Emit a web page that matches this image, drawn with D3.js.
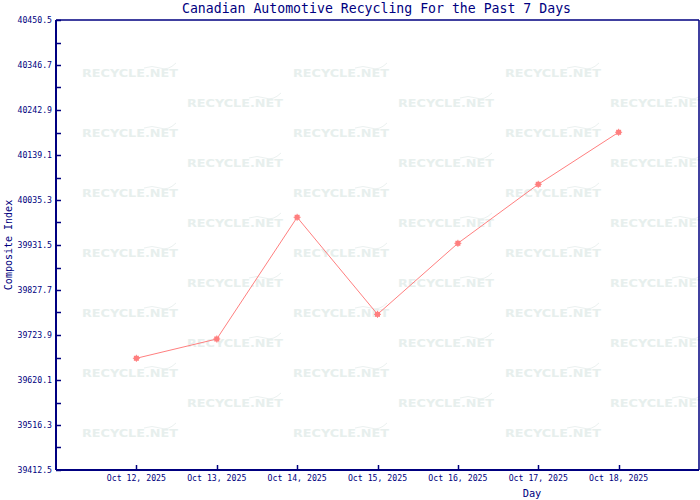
<!DOCTYPE html>
<html>
<head>
<meta charset="utf-8">
<script src="https://cdn.jsdelivr.net/npm/d3@7"></script>
<style>
  html, body { margin: 0; padding: 0; background: #fff; }
  svg { display: block; }
</style>
</head>
<body>
<svg id="chart" width="700" height="500"></svg>
<script>
// ---- data ----
const days = ["2025-10-12", "2025-10-13", "2025-10-14", "2025-10-15", "2025-10-16", "2025-10-17", "2025-10-18"];
const dayLabels = ["Oct 12, 2025", "Oct 13, 2025", "Oct 14, 2025", "Oct 15, 2025", "Oct 16, 2025", "Oct 17, 2025", "Oct 18, 2025"];
const values = [39670.2, 39714.7, 39995.4, 39771.6, 39935.4, 40071.5, 40191.5];
const yTicks = [39412.5, 39516.3, 39620.1, 39723.9, 39827.7, 39931.5, 40035.3, 40139.1, 40242.9, 40346.7, 40450.5];
const xDomain = ["2025-10-11", "2025-10-19"];
const title = "Canadian Automotive Recycling For the Past 7 Days";
const xTitle = "Day";
const yTitle = "Composite Index";
const watermark = "RECYCLE.NET";

// ---- layout ----
const navy = "#000080";
const lineColor = "#ff7f7f";
const pLeft = 56, pRight = 699, pTop = 20, pBottom = 470;
const parse = d3.utcParse("%Y-%m-%d");
const monoFont = "'DejaVu Sans Mono', 'Liberation Mono', monospace";

const svg = d3.select("#chart");

const x = d3.scaleUtc().domain(xDomain.map(parse)).range([pLeft, pRight]);
const y = d3.scaleLinear().domain([yTicks[0], yTicks[yTicks.length - 1]]).range([pBottom, pTop]);

// ---- watermarks ----
const wm = svg.append("g").attr("class", "watermarks");
for (let r = 0; r < 13; r++) {
  const cy = 77 + r * 30;
  const starts = r % 2 === 0 ? [82, 293, 505] : [187, 398, 610];
  starts.forEach(sx => {
    const g = wm.append("g").attr("transform", `translate(${sx},${cy})`);
    g.append("text")
      .attr("x", 0).attr("y", 0)
      .attr("textLength", 96)
      .attr("lengthAdjust", "spacingAndGlyphs")
      .attr("font-family", "'DejaVu Sans', sans-serif")
      .attr("font-weight", "bold")
      .attr("font-size", 11)
      .attr("fill", "#e7efed")
      .text(watermark);
    g.append("path")
      .attr("d", "M62,-9 Q70,-12 78,-9 T94,-14")
      .attr("fill", "none")
      .attr("stroke", "#ebf1f0")
      .attr("stroke-width", 1);
  });
}

// ---- frame ----
svg.append("line").attr("x1", pLeft).attr("x2", pRight).attr("y1", pTop).attr("y2", pTop)
  .attr("stroke", navy).attr("stroke-width", 1.5);
svg.append("line").attr("x1", pRight).attr("x2", pRight).attr("y1", pTop).attr("y2", pBottom)
  .attr("stroke", navy).attr("stroke-width", 1.5);

// ---- y axis (ticks inside) ----
const minor = yTicks.slice(0, -1).map((v, i) => (v + yTicks[i + 1]) / 2);
const yAxis = svg.append("g");
yAxis.append("line").attr("x1", pLeft).attr("x2", pLeft).attr("y1", pTop).attr("y2", pBottom)
  .attr("stroke", navy).attr("stroke-width", 2);
yAxis.selectAll("line.tick").data(yTicks.concat(minor)).join("line")
  .attr("class", "tick")
  .attr("x1", pLeft).attr("x2", pLeft + 5)
  .attr("y1", d => Math.round(y(d)) + 0.5).attr("y2", d => Math.round(y(d)) + 0.5)
  .attr("stroke", navy).attr("stroke-width", 1.5);
yAxis.selectAll("text").data(yTicks).join("text")
  .attr("x", 52).attr("y", d => y(d))
  .attr("dy", "0.33em")
  .attr("text-anchor", "end")
  .attr("font-family", monoFont)
  .attr("font-size", 8.2)
  .attr("fill", navy)
  .text(d => d.toFixed(1));

// ---- x axis (ticks inside) ----
const xAxis = svg.append("g");
xAxis.append("line").attr("x1", pLeft).attr("x2", pRight).attr("y1", pBottom).attr("y2", pBottom)
  .attr("stroke", navy).attr("stroke-width", 2);
xAxis.selectAll("line.tick").data(days).join("line")
  .attr("class", "tick")
  .attr("x1", d => Math.round(x(parse(d))) + 0.5).attr("x2", d => Math.round(x(parse(d))) + 0.5)
  .attr("y1", pBottom).attr("y2", pBottom - 5)
  .attr("stroke", navy).attr("stroke-width", 1.5);
xAxis.selectAll("text").data(days).join("text")
  .attr("x", d => x(parse(d))).attr("y", 481)
  .attr("text-anchor", "middle")
  .attr("font-family", monoFont)
  .attr("font-size", 8.2)
  .attr("fill", navy)
  .text((d, i) => dayLabels[i]);

// ---- titles ----
svg.append("text")
  .attr("x", 376.5).attr("y", 13)
  .attr("text-anchor", "middle")
  .attr("font-family", monoFont)
  .attr("font-size", 13.2)
  .attr("fill", navy)
  .text(title);
svg.append("text")
  .attr("x", 532).attr("y", 497)
  .attr("text-anchor", "middle")
  .attr("font-family", monoFont)
  .attr("font-size", 10.3)
  .attr("fill", navy)
  .text(xTitle);
svg.append("text")
  .attr("transform", `translate(12,${(pTop + pBottom) / 2}) rotate(-90)`)
  .attr("text-anchor", "middle")
  .attr("font-family", monoFont)
  .attr("font-size", 10)
  .attr("fill", navy)
  .text(yTitle);

// ---- series ----
const pts = days.map((d, i) => [x(parse(d)), y(values[i])]);
svg.append("path")
  .attr("d", d3.line()(pts))
  .attr("fill", "none")
  .attr("stroke", lineColor)
  .attr("stroke-width", 1);
const mk = svg.append("g");
pts.forEach(p => {
  mk.append("rect").attr("x", p[0] - 2.5).attr("y", p[1] - 2.5).attr("width", 5).attr("height", 5).attr("fill", lineColor);
  mk.append("rect").attr("x", p[0] - 0.5).attr("y", p[1] - 3.5).attr("width", 1).attr("height", 7).attr("fill", lineColor);
  mk.append("rect").attr("x", p[0] - 3.5).attr("y", p[1] - 0.5).attr("width", 7).attr("height", 1).attr("fill", lineColor);
});
</script>
</body>
</html>
